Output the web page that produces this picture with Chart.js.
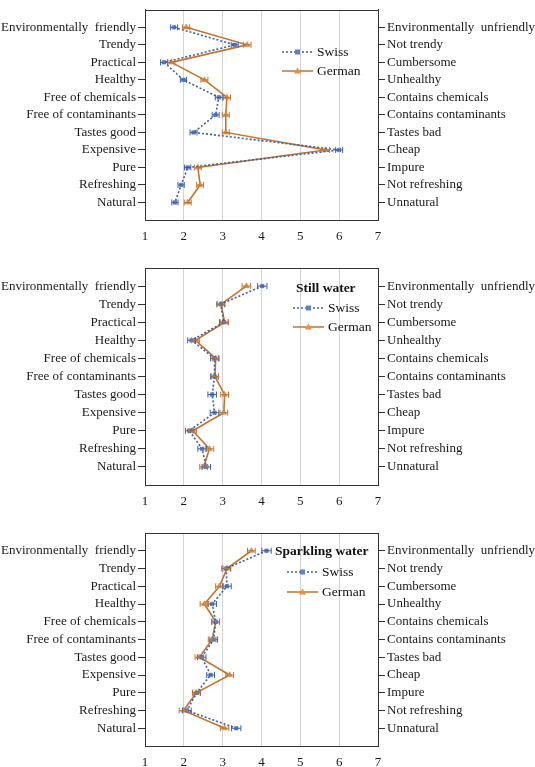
<!DOCTYPE html>
<html>
<head>
<meta charset="utf-8">
<script src="https://cdn.jsdelivr.net/npm/chart.js@4/dist/chart.umd.min.js"></script>
<style>
  html, body { margin: 0; padding: 0; background: #fff; }
  .panel { position: absolute; left: 0; width: 535px; }
</style>
</head>
<body>
<div class="panel" style="top:0;height:250px"><canvas id="cAll"></canvas></div>
<div class="panel" style="top:250px;height:260px"><canvas id="cStill"></canvas></div>
<div class="panel" style="top:510px;height:257px"><canvas id="cSpark"></canvas></div>
<script>
// semantic differential items (left pole / right pole)
const LEFT_LABELS = ['Environmentally  friendly', 'Trendy', 'Practical', 'Healthy', 'Free of chemicals',
  'Free of contaminants', 'Tastes good', 'Expensive', 'Pure', 'Refreshing', 'Natural'];
const RIGHT_LABELS = ['Environmentally  unfriendly', 'Not trendy', 'Cumbersome', 'Unhealthy', 'Contains chemicals',
  'Contains contaminants', 'Tastes bad', 'Cheap', 'Impure', 'Not refreshing', 'Unnatural'];
const X_TICKS = [1, 2, 3, 4, 5, 6, 7];

// all water
const ALL_SWISS = [1.75, 3.31, 1.49, 1.99, 2.90, 2.82, 2.25, 6.00, 2.10, 1.93, 1.77];
const ALL_GERMAN = [2.06, 3.63, 1.68, 2.53, 3.11, 3.08, 3.08, 5.65, 2.36, 2.42, 2.10];
const ALL_SWISS_ERR = [0.09, 0.09, 0.09, 0.08, 0.09, 0.09, 0.09, 0.09, 0.08, 0.08, 0.08];
const ALL_GERMAN_ERR = [0.09, 0.10, 0.09, 0.09, 0.09, 0.09, 0.09, 0.10, 0.09, 0.09, 0.09];

// still water
const STILL_SWISS = [4.02, 2.95, 3.03, 2.20, 2.79, 2.79, 2.73, 2.79, 2.14, 2.47, 2.58];
const STILL_GERMAN = [3.61, 2.96, 3.05, 2.30, 2.82, 2.80, 3.05, 3.03, 2.23, 2.66, 2.51];
const STILL_SWISS_ERR = [0.12, 0.10, 0.11, 0.10, 0.10, 0.10, 0.11, 0.11, 0.10, 0.11, 0.11];
const STILL_GERMAN_ERR = [0.11, 0.10, 0.10, 0.10, 0.09, 0.09, 0.10, 0.10, 0.10, 0.11, 0.10];

// sparkling water
const SPARK_SWISS = [4.13, 3.09, 3.11, 2.73, 2.82, 2.77, 2.46, 2.69, 2.33, 2.08, 3.35];
const SPARK_GERMAN = [3.74, 3.11, 2.92, 2.53, 2.82, 2.73, 2.40, 3.18, 2.32, 1.99, 3.05];
const SPARK_SWISS_ERR = [0.12, 0.11, 0.11, 0.11, 0.10, 0.10, 0.11, 0.10, 0.10, 0.11, 0.12];
const SPARK_GERMAN_ERR = [0.10, 0.10, 0.10, 0.11, 0.10, 0.10, 0.11, 0.10, 0.10, 0.11, 0.11];

const SWISS_COLOR = '#3d5ea8';
const SWISS_FILL = '#5b82c8';
const GERMAN_COLOR = '#c2742f';
const GERMAN_FILL = '#e8903c';
const FONT = "'Liberation Serif', 'DejaVu Serif', serif";

// horizontal error bars with caps, drawn through the x scale
const errorBars = {
  id: 'errorBars',
  afterDatasetsDraw(chart) {
    const ctx = chart.ctx;
    const xs = chart.scales.x, ys = chart.scales.y;
    chart.data.datasets.forEach((ds, i) => {
      if (!ds.errors) return;
      ctx.save();
      ctx.strokeStyle = ds.borderColor;
      ctx.lineWidth = 1;
      ds.data.forEach((p, j) => {
        const e = ds.errors[j];
        const x1 = xs.getPixelForValue(p.x - e);
        const x2 = xs.getPixelForValue(p.x + e);
        const y = ys.getPixelForValue(p.y);
        ctx.beginPath();
        ctx.moveTo(x1, y); ctx.lineTo(x2, y);
        ctx.moveTo(x1, y - 3); ctx.lineTo(x1, y + 3);
        ctx.moveTo(x2, y - 3); ctx.lineTo(x2, y + 3);
        ctx.stroke();
      });
      ctx.restore();
    });
  }
};

// closed frame around the plot area
const frame = {
  id: 'frame',
  afterDraw(chart) {
    const a = chart.chartArea, ctx = chart.ctx;
    ctx.save();
    ctx.strokeStyle = '#333';
    ctx.lineWidth = 1;
    ctx.strokeRect(Math.round(a.left) + 0.5, Math.round(a.top) + 0.5,
      Math.round(a.right - a.left), Math.round(a.bottom - a.top));
    ctx.restore();
  }
};

// legend placed inside the plot, as in the original figure
const inlineLegend = {
  id: 'inlineLegend',
  afterDraw(chart, args, opts) {
    const ctx = chart.ctx;
    ctx.save();
    ctx.textBaseline = 'middle';
    ctx.fillStyle = '#111';
    if (opts.title) {
      ctx.font = 'bold 13.5px ' + FONT;
      ctx.fillText(opts.title, opts.titleX, opts.titleY);
    }
    ctx.font = '13.5px ' + FONT;
    chart.data.datasets.forEach((ds, i) => {
      const y = opts.y0 + i * opts.dy;
      ctx.strokeStyle = ds.borderColor;
      ctx.lineWidth = 1.5;
      ctx.setLineDash(ds.borderDash || []);
      ctx.beginPath();
      ctx.moveTo(opts.x1, y); ctx.lineTo(opts.x2, y);
      ctx.stroke();
      ctx.setLineDash([]);
      const mx = (opts.x1 + opts.x2) / 2;
      ctx.fillStyle = ds.pointBackgroundColor;
      ctx.beginPath();
      if (ds.pointStyle === 'triangle') {
        ctx.moveTo(mx, y - 3.5); ctx.lineTo(mx + 3.5, y + 2.5); ctx.lineTo(mx - 3.5, y + 2.5);
      } else {
        ctx.rect(mx - 2.5, y - 2.5, 5, 5);
      }
      ctx.fill();
      ctx.fillStyle = '#111';
      ctx.fillText(ds.label, opts.x2 + 4, y);
    });
    ctx.restore();
  }
};

function points(vals) {
  return vals.map((v, i) => ({ x: v, y: i + 1 }));
}

function itemAxis(labels, position, width) {
  return {
    type: 'linear',
    position: position,
    reverse: true,
    min: 0,
    max: labels.length + 1,
    afterBuildTicks: s => { s.ticks = labels.map((l, i) => ({ value: i + 1 })); },
    afterFit: s => { s.width = width; },
    grid: { drawOnChartArea: false, drawTicks: true, tickLength: 7, color: '#333' },
    border: { display: true, color: '#333' },
    ticks: {
      autoSkip: false,
      padding: 2,
      color: '#1a1a1a',
      font: { family: FONT, size: 13 },
      callback: v => labels[v - 1]
    }
  };
}

function makeChart(id, swiss, german, swissErr, germanErr, padTop, xHeight, legend) {
  return new Chart(document.getElementById(id), {
    type: 'line',
    data: {
      datasets: [
        {
          label: 'Swiss',
          data: points(swiss),
          errors: swissErr,
          borderColor: SWISS_COLOR,
          borderWidth: 1.6,
          borderDash: [2, 2],
          pointStyle: 'rect',
          pointRadius: 2.5,
          pointBackgroundColor: SWISS_FILL,
          pointBorderColor: SWISS_COLOR,
          pointBorderWidth: 0.5,
          tension: 0
        },
        {
          label: 'German',
          data: points(german),
          errors: germanErr,
          borderColor: GERMAN_COLOR,
          borderWidth: 1.6,
          pointStyle: 'triangle',
          pointRadius: 3.2,
          pointBackgroundColor: GERMAN_FILL,
          pointBorderColor: GERMAN_COLOR,
          pointBorderWidth: 0.5,
          tension: 0
        }
      ]
    },
    options: {
      responsive: true,
      maintainAspectRatio: false,
      animation: false,
      layout: { padding: { top: padTop, left: 0, right: 0, bottom: 0 } },
      plugins: {
        legend: { display: false },
        tooltip: { enabled: false },
        inlineLegend: legend
      },
      scales: {
        x: {
          type: 'linear',
          min: X_TICKS[0],
          max: X_TICKS[X_TICKS.length - 1],
          afterBuildTicks: s => { s.ticks = X_TICKS.map(v => ({ value: v })); },
          afterFit: s => { s.height = xHeight; },
          grid: { color: '#d4d4d4', lineWidth: 1, drawTicks: false },
          border: { display: true, color: '#333' },
          ticks: { padding: 9, color: '#1a1a1a', font: { family: FONT, size: 13 } }
        },
        y: itemAxis(LEFT_LABELS, 'left', 145),
        y2: itemAxis(RIGHT_LABELS, 'right', 157)
      }
    },
    plugins: [errorBars, frame, inlineLegend]
  });
}

makeChart('cAll', ALL_SWISS, ALL_GERMAN, ALL_SWISS_ERR, ALL_GERMAN_ERR, 5, 30,
  { x1: 282, x2: 313, y0: 52, dy: 19 });
makeChart('cStill', STILL_SWISS, STILL_GERMAN, STILL_SWISS_ERR, STILL_GERMAN_ERR, 18, 25,
  { title: 'Still water', titleX: 296, titleY: 39, x1: 293, x2: 324, y0: 58, dy: 19 });
makeChart('cSpark', SPARK_SWISS, SPARK_GERMAN, SPARK_SWISS_ERR, SPARK_GERMAN_ERR, 23, 21,
  { title: 'Sparkling water', titleX: 275, titleY: 42, x1: 287, x2: 318, y0: 62, dy: 20 });
</script>
</body>
</html>
